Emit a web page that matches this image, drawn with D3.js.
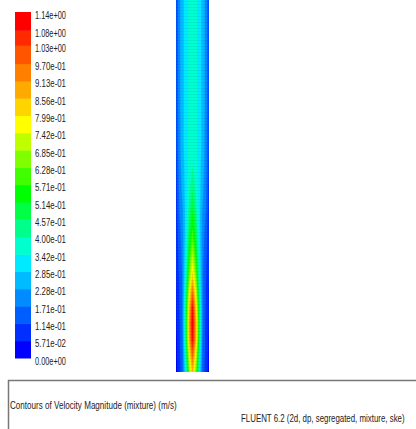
<!DOCTYPE html>
<html>
<head>
<meta charset="utf-8">
<script src="https://cdn.jsdelivr.net/npm/d3@7"></script>
<style>
    body { margin: 0; background: #fff; }
    svg { display: block; }
</style>
</head>
<body>
<svg id="chart" width="416" height="429"></svg>
<script>
//////////////////////////////////////////////////////////////////////////////
// Contours of velocity magnitude (mixture) in a 2d column, FLUENT style.
// Legend levels and the sampled field are kept as plain arrays below.
//////////////////////////////////////////////////////////////////////////////

// legend levels (m/s), bottom to top
var levelValues = [0, 0.0571, 0.114, 0.171, 0.228, 0.285, 0.342, 0.400, 0.457, 0.514,
    0.571, 0.628, 0.685, 0.742, 0.799, 0.856, 0.913, 0.970, 1.03, 1.08, 1.14];
var levelLabels = ['0.00e+00', '5.71e-02', '1.14e-01', '1.71e-01', '2.28e-01', '2.85e-01',
    '3.42e-01', '4.00e-01', '4.57e-01', '5.14e-01', '5.71e-01', '6.28e-01', '6.85e-01',
    '7.42e-01', '7.99e-01', '8.56e-01', '9.13e-01', '9.70e-01', '1.03e+00', '1.08e+00', '1.14e+00'];

// velocity magnitude read across the column (wall to wall), one row per band of height, top first
var fieldRows = [
    [0.10, 0.21, 0.27, 0.31, 0.355, 0.37, 0.355, 0.31, 0.27, 0.21, 0.10],
    [0.10, 0.21, 0.27, 0.31, 0.355, 0.37, 0.355, 0.31, 0.27, 0.21, 0.10],
    [0.10, 0.21, 0.27, 0.31, 0.355, 0.37, 0.355, 0.31, 0.27, 0.21, 0.10],
    [0.10, 0.21, 0.27, 0.31, 0.355, 0.37, 0.355, 0.31, 0.27, 0.21, 0.10],
    [0.10, 0.21, 0.27, 0.31, 0.355, 0.37, 0.355, 0.31, 0.27, 0.21, 0.10],
    [0.10, 0.21, 0.27, 0.31, 0.355, 0.37, 0.355, 0.31, 0.27, 0.21, 0.10],
    [0.10, 0.21, 0.27, 0.31, 0.355, 0.375, 0.355, 0.31, 0.27, 0.21, 0.10],
    [0.10, 0.21, 0.27, 0.31, 0.355, 0.375, 0.355, 0.31, 0.27, 0.21, 0.10],
    [0.10, 0.20, 0.27, 0.31, 0.36, 0.38, 0.36, 0.31, 0.27, 0.20, 0.10],
    [0.10, 0.20, 0.27, 0.31, 0.36, 0.38, 0.36, 0.31, 0.27, 0.20, 0.10],
    [0.09, 0.20, 0.26, 0.31, 0.36, 0.39, 0.36, 0.31, 0.26, 0.20, 0.09],
    [0.09, 0.19, 0.25, 0.31, 0.37, 0.42, 0.37, 0.31, 0.25, 0.19, 0.09],
    [0.08, 0.18, 0.24, 0.31, 0.39, 0.46, 0.39, 0.31, 0.24, 0.18, 0.08],
    [0.08, 0.17, 0.22, 0.31, 0.42, 0.51, 0.42, 0.31, 0.22, 0.17, 0.08],
    [0.07, 0.15, 0.21, 0.31, 0.46, 0.56, 0.46, 0.31, 0.21, 0.15, 0.07],
    [0.07, 0.14, 0.20, 0.32, 0.50, 0.63, 0.50, 0.32, 0.20, 0.14, 0.07],
    [0.06, 0.13, 0.19, 0.34, 0.56, 0.72, 0.56, 0.34, 0.19, 0.13, 0.06],
    [0.06, 0.12, 0.18, 0.37, 0.63, 0.82, 0.63, 0.37, 0.18, 0.12, 0.06],
    [0.05, 0.11, 0.18, 0.41, 0.73, 0.96, 0.73, 0.41, 0.18, 0.11, 0.05],
    [0.05, 0.11, 0.18, 0.45, 0.82, 1.09, 0.82, 0.45, 0.18, 0.11, 0.05],
    [0.05, 0.10, 0.18, 0.46, 0.87, 1.13, 0.87, 0.46, 0.18, 0.10, 0.05],
    [0.04, 0.10, 0.17, 0.45, 0.85, 1.10, 0.85, 0.45, 0.17, 0.10, 0.04],
    [0.04, 0.10, 0.16, 0.40, 0.74, 0.98, 0.74, 0.40, 0.16, 0.10, 0.04],
    [0.03, 0.09, 0.15, 0.34, 0.64, 0.86, 0.64, 0.34, 0.15, 0.09, 0.03]
];

var captionLeft = 'Contours of Velocity Magnitude (mixture)  (m/s)';
var captionRight = 'FLUENT 6.2 (2d, dp, segregated, mixture, ske)';

var svg = d3.select('#chart');
var labelFont = '"Liberation Sans Narrow", "Liberation Sans", Arial, sans-serif';

// squeeze a text sideways so it takes the given width (the plot text is condensed)
function fitText(sel, x, y, width)
{
    sel.each(function(){
        var len = this.getComputedTextLength();
        var sx = len > 0 ? width / len : 1;
        d3.select(this).attr('transform', 'translate(' + x + ',' + y + ') scale(' + sx + ',1)');
    });
}

// one colour per band, blue (low) -> cyan -> green -> yellow -> red (high)
var bandCount = levelValues.length - 1;
var hueOfBand = d3.scaleLinear().domain([0, 5, 9, 13, 19]).range([240, 185, 120, 60, 0]);
var bandColors = d3.range(bandCount).map(function(k){
    return d3.hsl(hueOfBand(k), 1, 0.5).formatHex();
});
var bandColor = d3.scaleThreshold()
    .domain(levelValues.slice(1, -1))
    .range(bandColors);

//---------------------------------------------------------------- colour bar
var barX = 15, barW = 16;
var yBar = d3.scaleLinear().domain([0, 1.14]).range([358, 12]);

var legend = svg.append('g').attr('class', 'legend');
legend.selectAll('rect.band')
    .data(d3.range(bandCount))
    .enter().append('rect')
    .attr('class', 'band')
    .attr('x', barX)
    .attr('width', barW)
    .attr('y', function(k){ return yBar(levelValues[k + 1]); })
    .attr('height', function(k){ return yBar(levelValues[k]) - yBar(levelValues[k + 1]) + 0.5; })
    .attr('fill', function(k){ return bandColors[k]; });

legend.selectAll('text.lvl')
    .data(levelValues)
    .enter().append('text')
    .attr('class', 'lvl')
    .attr('dy', '0.35em')
    .attr('font-family', labelFont)
    .attr('font-size', 10)
    .attr('fill', '#222')
    .text(function(d, i){ return levelLabels[i]; })
    .each(function(d){
        fitText(d3.select(this), 35, yBar(d) + 3, 31);
    });

//---------------------------------------------------------------- contour field
var nx = fieldRows[0].length;
var ny = fieldRows.length;
var flat = [];
fieldRows.forEach(function(r){ r.forEach(function(v){ flat.push(v); }); });

var pipeLeft = 176, pipeRight = 209, pipeTop = 0, pipeBottom = 372;

// grid points sit on the walls / ends, the half cell outside is clipped away
var xField = d3.scaleLinear().domain([0.5, nx - 0.5]).range([pipeLeft, pipeRight]);
var yField = d3.scaleLinear().domain([0.5, ny - 0.5]).range([pipeTop, pipeBottom]);

var contours = d3.contours()
    .size([nx, ny])
    .thresholds(levelValues.slice(0, bandCount))(flat);

var toScreen = d3.geoTransform({
    point: function(x, y){ this.stream.point(xField(x), yField(y)); }
});
var path = d3.geoPath(toScreen);

svg.append('defs').append('clipPath').attr('id', 'pipeClip')
    .append('rect')
    .attr('x', pipeLeft).attr('y', pipeTop)
    .attr('width', pipeRight - pipeLeft).attr('height', pipeBottom - pipeTop);

var field = svg.append('g').attr('class', 'field').attr('clip-path', 'url(#pipeClip)');
field.append('rect')
    .attr('x', pipeLeft).attr('y', pipeTop)
    .attr('width', pipeRight - pipeLeft).attr('height', pipeBottom - pipeTop)
    .attr('fill', bandColor(d3.min(flat)));
field.selectAll('path')
    .data(contours)
    .enter().append('path')
    .attr('d', path)
    .attr('fill', function(d){ return bandColor(d.value); })
    .attr('stroke', function(d){ return bandColor(d.value); })
    .attr('stroke-width', 0.3);

// faint mesh lines over the column
var mesh = field.append('g').attr('class', 'mesh')
    .attr('stroke', '#001a66').attr('stroke-opacity', 0.07).attr('stroke-width', 1);
mesh.selectAll('line')
    .data(d3.range(1.5, pipeBottom, 3))
    .enter().append('line')
    .attr('x1', pipeLeft).attr('x2', pipeRight)
    .attr('y1', function(d){ return d; }).attr('y2', function(d){ return d; });

//---------------------------------------------------------------- caption box
var box = svg.append('g').attr('class', 'caption');
box.append('rect')
    .attr('x', 8.5).attr('y', 380.5)
    .attr('width', 420).attr('height', 60)
    .attr('fill', '#fff')
    .attr('stroke', '#777').attr('stroke-width', 1.5);

box.append('text')
    .attr('font-family', labelFont).attr('font-size', 10.5).attr('fill', '#222')
    .text(captionLeft)
    .call(fitText, 10, 409, 167);

box.append('text')
    .attr('font-family', labelFont).attr('font-size', 10.5).attr('fill', '#222')
    .text(captionRight)
    .call(fitText, 241, 422, 164);
</script>
</body>
</html>
